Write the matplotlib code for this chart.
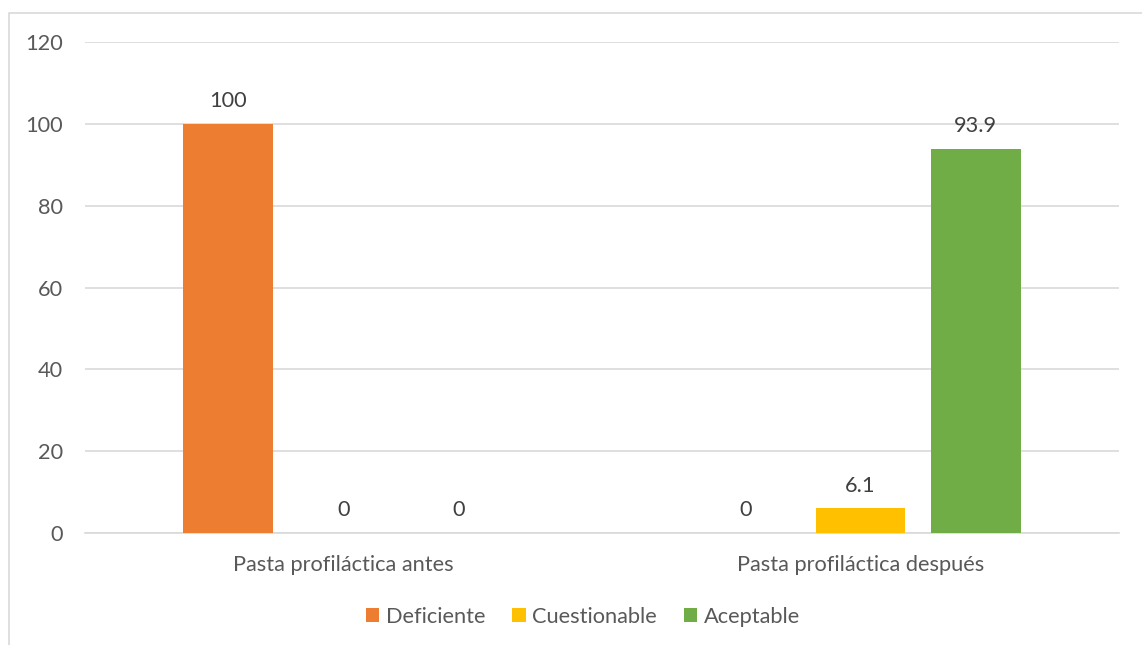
import matplotlib.pyplot as plt
import numpy as np
from matplotlib.lines import Line2D

categories = ['Pasta profiláctica antes', 'Pasta profiláctica después']
series = ['Deficiente', 'Cuestionable', 'Aceptable']
values = {
    'Deficiente': [100, 0],
    'Cuestionable': [0, 6.1],
    'Aceptable': [0, 93.9],
}
colors = ['#ED7D31', '#FFC000', '#70AD47']
yticks = [0, 20, 40, 60, 80, 100, 120]

plt.rcParams['font.family'] = ['Lato', 'DejaVu Sans']
text_color = '#595959'
grid_color = '#D9D9D9'
fs = 15.7

fig = plt.figure(figsize=(11.42, 6.45), dpi=100)
ax = fig.add_axes([85 / 1142, 1 - 533 / 645, (1119 - 85) / 1142, (533 - 42) / 645])

x = np.arange(len(categories))
width = 0.174
step = 0.2226
for i, (name, color) in enumerate(zip(series, colors)):
    pos = x + (i - 1) * step
    bars = ax.bar(pos, values[name], width, color=color, label=name, zorder=3)
    for b, v in zip(bars, values[name]):
        lab = f'{v:g}'
        ax.annotate(lab, (b.get_x() + b.get_width() / 2, v), xytext=(0, 9),
                    textcoords='offset points', ha='center', va='bottom',
                    fontsize=fs, color='#404040')

ax.set_xlim(-0.5, 1.5)
ax.set_ylim(0, 120)
ax.set_yticks(yticks)
ax.set_xticks(x)
ax.set_xticklabels(categories)
ax.tick_params(axis='both', length=0, labelsize=fs, labelcolor=text_color)
ax.tick_params(axis='y', pad=16)
ax.tick_params(axis='x', pad=16)
ax.grid(axis='y', color=grid_color, linewidth=1.2, zorder=0)
for side in ['top', 'right', 'left']:
    ax.spines[side].set_visible(False)
ax.spines['bottom'].set_color(grid_color)
ax.spines['bottom'].set_linewidth(1.2)

leg = fig.legend(loc='center', bbox_to_anchor=(583 / 1142, 1 - 617 / 645), ncol=3,
                 frameon=False, fontsize=fs, handlelength=0.6, handleheight=0.6,
                 handletextpad=0.3, columnspacing=1.25)
for t in leg.get_texts():
    t.set_color(text_color)

# chart area border
fig.add_artist(Line2D([8.5 / 1142, 8.5 / 1142, 1.0], [0.0, 1 - 12.5 / 645, 1 - 12.5 / 645],
                      transform=fig.transFigure, color=grid_color, linewidth=1.2))

fig.savefig('out.png', dpi=100)
